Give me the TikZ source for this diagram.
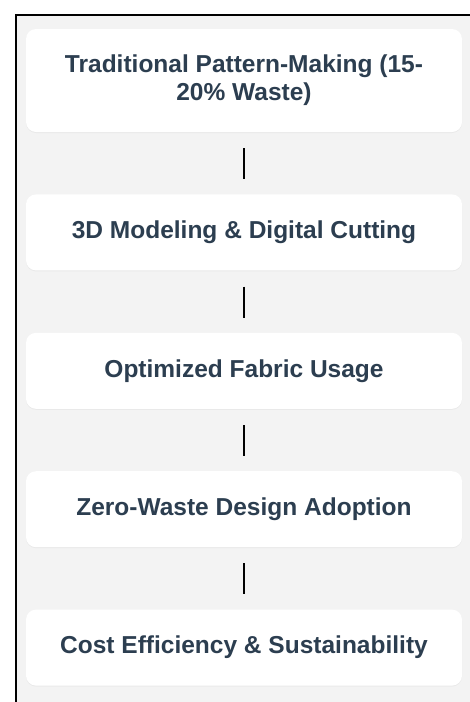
\documentclass[tikz,border=0pt]{standalone}
\usepackage{fontspec}
\setmainfont{Liberation Sans}
\usetikzlibrary{positioning}
\usetikzlibrary{shadows}
\definecolor{slate}{HTML}{2C3E50}
\definecolor{panel}{HTML}{F3F3F3}

\begin{document}
\begin{tikzpicture}
	[
		x = 1pt, y = 1pt,
		stage/.style = {rectangle, minimum width = 436pt, minimum height = 76pt, rounded corners = 10pt, fill = white, align = center, text = slate, font = \fontsize{24.5}{28}\selectfont\bfseries, drop shadow = {shadow xshift = 0pt, shadow yshift = -1pt, opacity = 0.08}},
		link/.style = {draw = black, line width = 2pt, shorten < = 16pt, shorten > = 15pt},
	]
	\useasboundingbox (0,0) rectangle (470,-702);
	% grey panel with its frame
	\fill [panel] (16,-15) rectangle (470,-702);
	\draw [line width = 1.5pt] (16,-702) -- (16,-15) -- (470,-15);
	% stages, top to bottom
	\node (traditional) [stage, minimum height = 103pt] at (244,-80.5) {Traditional Pattern-Making (15-\\20\% Waste)};
	\node (modeling) [stage, below = 62pt of traditional] {3D Modeling \& Digital Cutting};
	\node (fabric) [stage, below = 62pt of modeling] {Optimized Fabric Usage};
	\node (zerowaste) [stage, below = 62pt of fabric] {Zero-Waste Design Adoption};
	\node (cost) [stage, below = 62pt of zerowaste] {Cost Efficiency \& Sustainability};
	% connectors
	\draw [link] (traditional) -- (modeling);
	\draw [link] (modeling) -- (fabric);
	\draw [link] (fabric) -- (zerowaste);
	\draw [link] (zerowaste) -- (cost);
\end{tikzpicture}
\end{document}
